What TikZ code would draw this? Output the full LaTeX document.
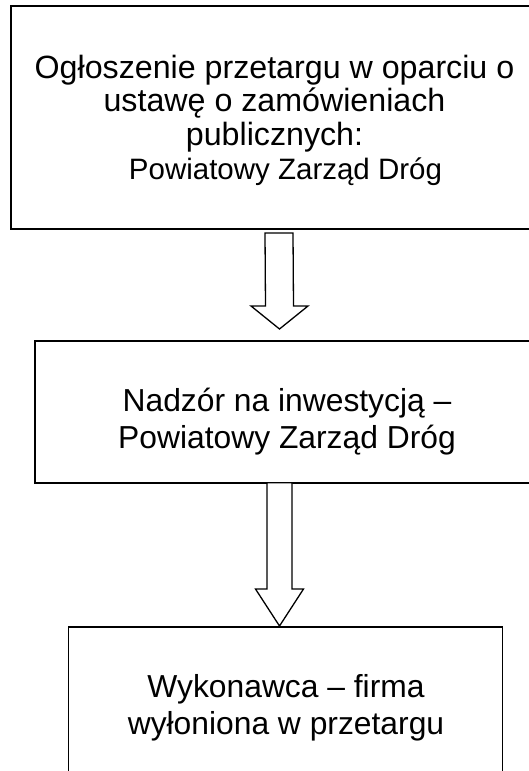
\documentclass[tikz,border=0pt]{standalone}
\usepackage{fontspec}
\setmainfont{Liberation Sans}
\usetikzlibrary{calc}
\tikzset{
  boxthick/.style={draw=black, line width=2pt, inner sep=0pt, outer sep=0pt, anchor=north west},
  boxthin/.style={draw=black, line width=1.2pt, inner sep=0pt, outer sep=0pt, anchor=north west},
  txtA/.style={align=center, inner sep=0pt, font=\fontsize{32.2}{33.7}\selectfont},
  txtB/.style={align=center, inner sep=0pt, font=\fontsize{31.8}{37}\selectfont},
  hollow/.style={draw=black, fill=white, line width=1.3pt, line join=miter}
}
\begin{document}
\begin{tikzpicture}[x=1pt,y=-1pt]
\useasboundingbox (0,0) rectangle (529,771);
\clip (0,0) rectangle (529,771);
\fill[white] (0,0) rectangle (529,771);
% boxes
\node[boxthick, minimum width=530pt, minimum height=223pt] (b1) at (10.6,5.7) {};
\node[boxthick, minimum width=506pt, minimum height=142pt] (b2) at (34.7,340.5) {};
\node[boxthin, minimum width=434pt, minimum height=200pt] (b3) at (68.3,627) {};
% texts
\node[txtA] (t1) at (274.5,120.2) {Ogłoszenie przetargu w oparciu o\\ustawę o zamówieniach\\publicznych:\\{\fontsize{29.5}{33.7}\selectfont\hspace*{22pt}Powiatowy Zarząd Dróg}};
\node[txtB] (t2) at (287,421.2) {Nadzór na inwestycją –\\Powiatowy Zarząd Dróg};
\node[txtB] (t3) at (286,707.9) {Wykonawca – firma\\wyłoniona w przetargu};
% arrows
\coordinate (a1top) at (279,233);
\coordinate (a1tip) at (279.5,329);
\coordinate (a2top) at (279.5,482.7);
\coordinate (a2tip) at (279.5,626);
\draw[hollow] ($(a1top)+(-14,0)$) -- ($(a1top)+(14,0)$) -- ($(a1tip)+(14,-23)$) -- ($(a1tip)+(28.5,-23)$) -- (a1tip) -- ($(a1tip)+(-28.5,-23)$) -- ($(a1tip)+(-14,-23)$) -- cycle;
\draw[hollow] ($(a2top)+(-12.5,0)$) -- ($(a2top)+(12.5,0)$) -- ($(a2tip)+(12.5,-37)$) -- ($(a2tip)+(24,-37)$) -- (a2tip) -- ($(a2tip)+(-24,-37)$) -- ($(a2tip)+(-12.5,-37)$) -- cycle;
\end{tikzpicture}
\end{document}
